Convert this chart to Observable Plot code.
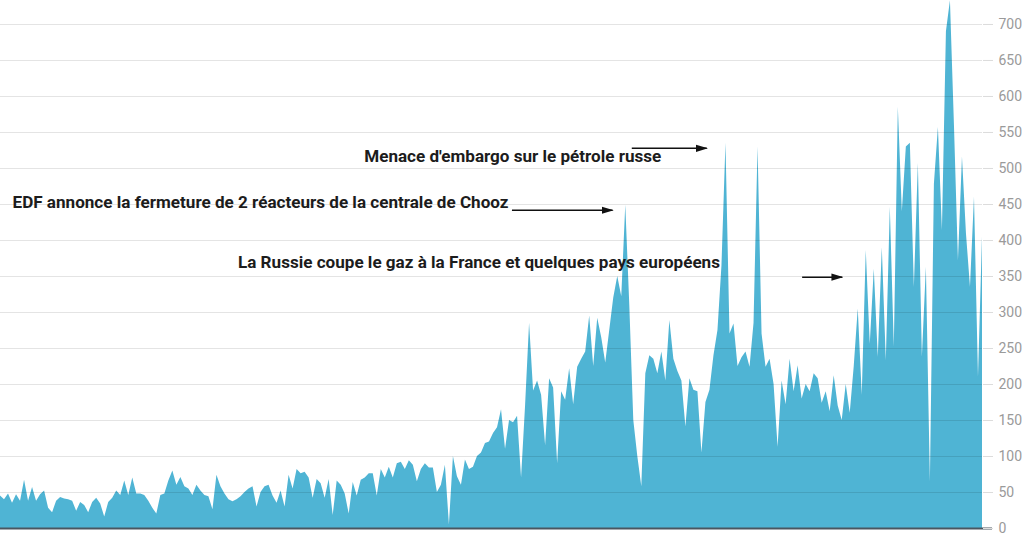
<!DOCTYPE html>
<html>
<head>
<meta charset="utf-8">
<script src="https://cdn.jsdelivr.net/npm/d3@7"></script>
<script src="https://cdn.jsdelivr.net/npm/@observablehq/plot@0.6"></script>
<style>
  html, body { margin: 0; padding: 0; background: #fff; }
  #chart { width: 1036px; height: 548px; overflow: hidden; }
</style>
</head>
<body>
<div id="chart"></div>
<script>
// Prix spot de l'électricité en France (€/MWh), une valeur tous les 3 jours environ
const prices = [
  45, 40, 48, 35, 47, 38, 67, 38, 57, 38,
  47, 52, 28, 22, 38, 43, 41, 40, 38, 24,
  36, 32, 22, 36, 42, 34, 16, 36, 42, 52,
  46, 66, 46, 70, 48, 48, 46, 38, 28, 20,
  46, 48, 66, 80, 60, 71, 58, 55, 46, 60,
  52, 46, 44, 26, 74, 58, 48, 40, 37, 40,
  44, 50, 55, 58, 30, 50, 58, 60, 45, 35,
  52, 30, 74, 55, 82, 76, 78, 70, 42, 68,
  62, 42, 68, 18, 66, 60, 48, 20, 64, 45,
  67, 70, 76, 76, 45, 82, 70, 85, 70, 90,
  92, 82, 94, 88, 65, 82, 90, 84, 84, 50,
  60, 88, 5, 100, 72, 60, 95, 82, 85, 100,
  105, 118, 120, 132, 140, 165, 110, 150, 147, 156,
  70, 170, 285, 191, 205, 185, 115, 208, 195, 90,
  190, 178, 222, 172, 224, 235, 245, 295, 225, 292,
  265, 230, 275, 320, 350, 322, 449, 310, 150, 100,
  58, 215, 240, 235, 215, 245, 205, 289, 235, 218,
  205, 141, 208, 192, 190, 105, 175, 192, 240, 275,
  365, 535, 270, 284, 225, 237, 245, 224, 285, 530,
  270, 224, 235, 200, 113, 205, 172, 235, 190, 226,
  180, 200, 190, 215, 208, 174, 190, 162, 212, 170,
  150, 200, 160, 225, 305, 185, 386, 256, 360, 238,
  390, 233, 446, 252, 585, 440, 530, 535, 335, 507,
  238, 363, 65, 478, 557, 414, 690, 733, 560, 372,
  516, 409, 335, 460, 210, 405
];
const yTicks = [0, 50, 100, 150, 200, 250, 300, 350, 400, 450, 500, 550, 600, 650, 700];

const noteTexts = [
  "EDF annonce la fermeture de 2 réacteurs de la centrale de Chooz",
  "Menace d'embargo sur le pétrole russe",
  "La Russie coupe le gaz à la France et quelques pays européens"
];

// annotation layout (sample index / €/MWh)
const noteLayout = [
  {x: 3,      y: 453, w: 496, ax1: 127.6, ax2: 152.7, ay: 442},
  {x: 90.75,  y: 517, w: 297, ax1: 157.5, ax2: 176.2, ay: 528},
  {x: 59.25,  y: 369, w: 482, ax1: 200,   ax2: 210,   ay: 349}
];

const data = prices.map((v, i) => ({i, v}));
const notes = noteTexts.map((t, k) => ({text: t, ...noteLayout[k]}));

const chart = Plot.plot({
  width: 1036,
  height: 548,
  marginLeft: 0,
  marginRight: 54,
  marginTop: 0,
  marginBottom: 20,
  style: {background: "#fff", fontFamily: "Roboto, 'Liberation Sans', sans-serif", fontSize: "14px", overflow: "hidden"},
  x: {domain: [0, prices.length - 1], axis: null},
  y: {domain: [0, 733.3], axis: null},
  marks: [
    Plot.areaY(data, {x: "i", y: "v", fill: "#4fb4d4"}),
    Plot.gridY(yTicks, {stroke: "#000", strokeOpacity: 0.11, strokeWidth: 1}),
    Plot.ruleY([0], {stroke: "#4a5660", strokeWidth: 2, insetRight: -10}),
    Plot.axisY(yTicks, {anchor: "right", tickSize: 10, tickPadding: 6, stroke: "#dcdcdc", fill: "#9a9a9a", fontSize: 14}),
    Plot.text(notes, {x: "x", y: "y", text: "text", textAnchor: "start", lineAnchor: "middle",
      fontSize: 17, fontWeight: "bold", fill: "#1c1c1c"}),
    Plot.link(notes, {x1: "ax1", x2: "ax2", y1: "ay", y2: "ay", stroke: "#111", strokeWidth: 1.5, markerEnd: "arrow"})
  ]
});

// annotation text widths (condensed look)
const texts = chart.querySelectorAll('g[aria-label="text"] text');
texts.forEach((t, k) => {
  t.setAttribute("textLength", notes[k].w);
  t.setAttribute("lengthAdjust", "spacingAndGlyphs");
});
// filled arrow heads
chart.querySelectorAll("marker").forEach(m => {
  m.setAttribute("viewBox", "-5 -5 10 10");
  m.setAttribute("markerWidth", 8);
  m.setAttribute("markerHeight", 8);
  m.setAttribute("refX", 4);
  m.setAttribute("refY", 0);
  m.setAttribute("fill", "#111");
  m.setAttribute("stroke", "none");
  m.innerHTML = '<path d="M-5,-3L5,0L-5,3Z"></path>';
});

document.getElementById("chart").appendChild(chart);
</script>
</body>
</html>
